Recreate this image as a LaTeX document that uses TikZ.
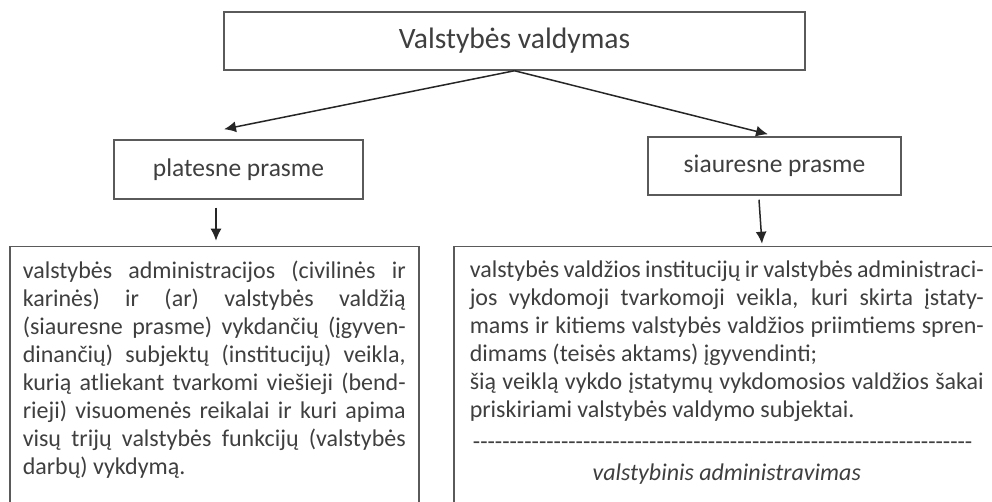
\documentclass[tikz,border=0pt]{standalone}
\usepackage{fontspec}
\setmainfont{Carlito}
\usetikzlibrary{arrows.meta,positioning}
\definecolor{boxgray}{HTML}{5A5A5A}
\definecolor{inkgray}{HTML}{3F3F3F}
\definecolor{arrowgray}{HTML}{262626}
\hyphenpenalty=10000
\tikzset{
  headbox/.style={draw=boxgray, line width=0.75pt, text=inkgray, inner sep=0pt},
  bodybox/.style={draw=boxgray, line width=0.75pt, text=inkgray, anchor=north west,
    align=justify, inner ysep=7pt, font=\fontsize{12}{14}\selectfont,
    execute at begin node={\baselineskip=14pt\relax
      \spaceskip=2.7pt plus 3pt minus 0.9pt\relax\tolerance=9999\relax}},
  arr/.style={-{Latex[length=6pt, width=5.5pt]}, arrowgray, line width=0.75pt}
}
\begin{document}
\begin{tikzpicture}[x=0.5pt, y=-0.5pt]
\useasboundingbox (0,0) rectangle (992,502);
\clip (0,0) rectangle (992,502);
\node[headbox, minimum width=290.5pt, minimum height=29pt,
  font=\fontsize{14.8}{17}\selectfont] (valdymas) at (514.5,41) {Valstybės valdymas};
\node[headbox, minimum width=124.5pt, minimum height=29.5pt,
  font=\fontsize{12.75}{15}\selectfont] (plat) at (238.5,169.5) {platesne prasme};
\node[headbox, minimum width=126.5pt, minimum height=29pt,
  font=\fontsize{12.75}{15}\selectfont] (siau) at (774.5,166) {siauresne prasme};
% platesne prasme
\node[bodybox, text width=191.5pt, inner xsep=6.5pt] (platbody) at (9,246)
{valstybės administracijos (civilinės ir\linebreak
karinės) ir (ar) valstybės valdžią\linebreak
(siauresne prasme) vykdančių (įgyven-\linebreak
dinančių) subjektų (institucijų) veikla,\linebreak
kurią atliekant tvarkomi viešieji (bend-\linebreak
rieji) visuomenės reikalai ir kuri apima\linebreak
visų trijų valstybės funkcijų (valstybės\linebreak
darbų) vykdymą.\par\vspace*{12pt}};
% siauresne prasme
\node[bodybox, text width=257pt, inner xsep=8pt] (siaubody) at (453,246)
{valstybės valdžios institucijų ir valstybės administraci-\linebreak
jos vykdomoji tvarkomoji veikla, kuri skirta įstaty-\linebreak
mams ir kitiems valstybės valdžios priimtiems spren-\linebreak
dimams (teisės aktams) įgyvendinti;\par
šią veiklą vykdo įstatymų vykdomosios valdžios šakai\linebreak
priskiriami valstybės valdymo subjektai.\par
\vspace{2.25pt}
\hbox to\linewidth{\hskip1pt\cleaders\hbox{-}\hfill\hskip5pt}\par
\vspace{1.25pt}
{\centering\itshape valstybinis administravimas\par}
\vspace*{12pt}};
\path[arr]
(valdymas.south) edge ([shift={(-14.5,-10)}]plat.north)
(valdymas.south) edge ([shift={(-6.5,-2)}]siau.north)
([shift={(-22.5,8)}]plat.south) edge ([shift={(-22.5,41)}]plat.south)
([shift={(-15.5,4)}]siau.south) edge ([shift={(-12.5,48)}]siau.south);
\end{tikzpicture}
\end{document}
